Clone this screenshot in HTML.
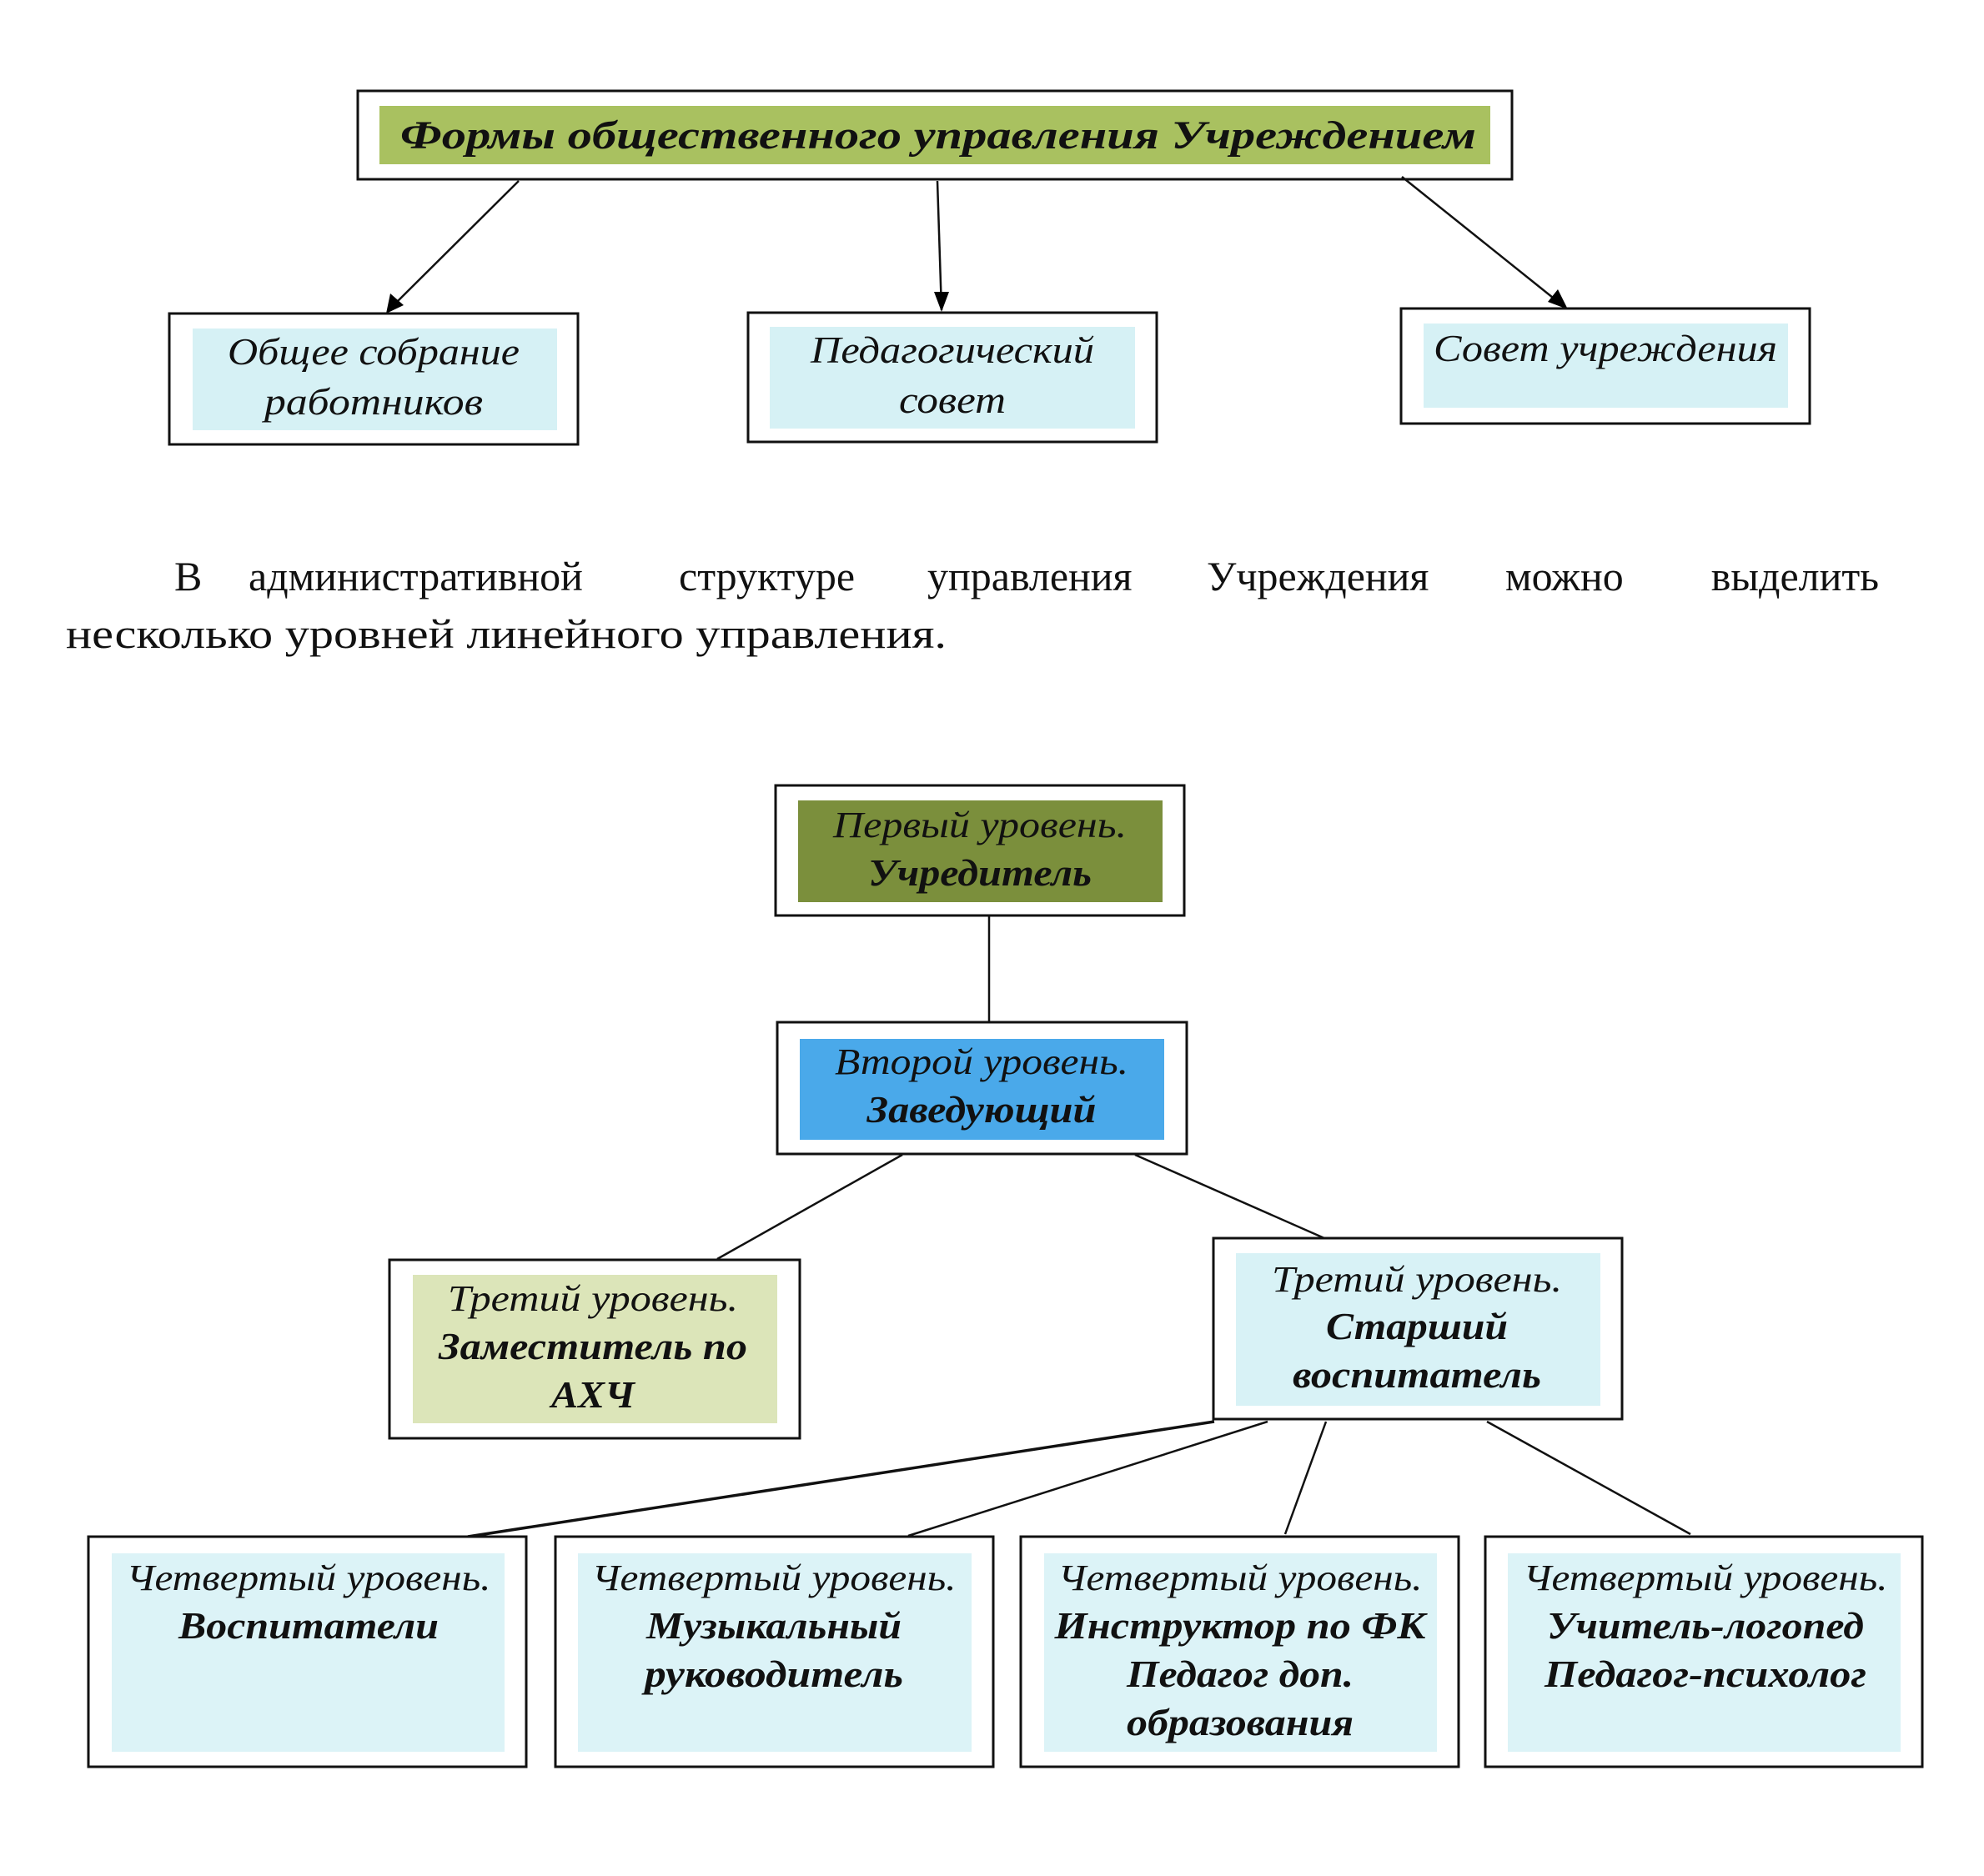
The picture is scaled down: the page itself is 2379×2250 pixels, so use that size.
<!DOCTYPE html>
<html><head><meta charset="utf-8"><style>
html,body{margin:0;padding:0;background:#fff;}
svg{display:block}
text{font-family:"Liberation Serif",serif;fill:#111;}
.i{font-style:italic;}
.b{font-weight:bold;font-style:italic;}
</style></head><body>
<svg width="2379" height="2250" viewBox="0 0 2379 2250" xmlns="http://www.w3.org/2000/svg">
<defs>
<marker id="ah" markerWidth="10" markerHeight="10" refX="9" refY="5" orient="auto" markerUnits="userSpaceOnUse" viewBox="0 0 10 10">
<path d="M0,1 L10,5 L0,9 z" fill="#000"/>
</marker>
</defs>
<!-- top box -->
<rect x="429" y="109" width="1384" height="106" fill="#fff" stroke="#111" stroke-width="3"/>
<rect x="455" y="127" width="1332" height="70" fill="#a9c160"/>
<text x="480" y="178" class="b" font-size="48" textLength="1290" lengthAdjust="spacingAndGlyphs">Формы общественного управления Учреждением</text>

<g stroke="#111" stroke-width="2.5">
<line x1="622" y1="217" x2="466" y2="372" marker-end="url(#ah)" style="marker-end:url(#ah)"/>
<line x1="1124" y1="217" x2="1129" y2="372"/>
<line x1="1681" y1="212" x2="1877" y2="369"/>
</g>
<path d="M463,376 L468,352 L484,366 z" fill="#000"/>
<path d="M1129,374 L1120,350 L1138,350 z" fill="#000"/>
<path d="M1880,371 L1856,362 L1868,347 z" fill="#000"/>

<!-- second row -->
<rect x="203" y="376" width="490" height="157" fill="#fff" stroke="#111" stroke-width="3"/>
<rect x="231" y="394" width="437" height="122" fill="#d6f1f5"/>
<text x="448" y="437" class="i" font-size="46" text-anchor="middle" textLength="350" lengthAdjust="spacingAndGlyphs">Общее собрание</text>
<text x="448" y="497" class="i" font-size="46" text-anchor="middle" textLength="262" lengthAdjust="spacingAndGlyphs">работников</text>

<rect x="897" y="375" width="490" height="155" fill="#fff" stroke="#111" stroke-width="3"/>
<rect x="923" y="392" width="438" height="122" fill="#d6f1f5"/>
<text x="1142" y="435" class="i" font-size="46" text-anchor="middle" textLength="340" lengthAdjust="spacingAndGlyphs">Педагогический</text>
<text x="1142" y="495" class="i" font-size="46" text-anchor="middle" textLength="128" lengthAdjust="spacingAndGlyphs">совет</text>

<rect x="1680" y="370" width="490" height="138" fill="#fff" stroke="#111" stroke-width="3"/>
<rect x="1707" y="388" width="437" height="101" fill="#d6f1f5"/>
<text x="1925" y="433" class="i" font-size="46" text-anchor="middle" textLength="412" lengthAdjust="spacingAndGlyphs">Совет учреждения</text>

<!-- paragraph -->
<g font-size="50">
<text x="209" y="708">В</text>
<text x="298" y="708">административной</text>
<text x="814" y="708">структуре</text>
<text x="1112" y="708">управления</text>
<text x="1447" y="708">Учреждения</text>
<text x="1805" y="708">можно</text>
<text x="2253" y="708" text-anchor="end">выделить</text>
<text x="79" y="777" textLength="1056" lengthAdjust="spacingAndGlyphs">несколько уровней линейного управления.</text>
</g>

<!-- connectors -->
<g stroke="#111" stroke-width="2.5">
<line x1="1186" y1="1098" x2="1186" y2="1226"/>
<line x1="1082" y1="1385" x2="860" y2="1510"/>
<line x1="1361" y1="1385" x2="1588" y2="1485"/>
<line x1="1456" y1="1705" x2="561" y2="1843" stroke-width="3.5"/>
<line x1="1520" y1="1705" x2="1089" y2="1842"/>
<line x1="1590" y1="1705" x2="1541" y2="1840"/>
<line x1="1783" y1="1705" x2="2027" y2="1840"/>
</g>

<!-- level 1 -->
<rect x="930" y="942" width="490" height="156" fill="#fff" stroke="#111" stroke-width="3"/>
<rect x="957" y="960" width="437" height="122" fill="#7b8f3c"/>
<text x="1175" y="1004" class="i" font-size="44" text-anchor="middle" textLength="352" lengthAdjust="spacingAndGlyphs">Первый уровень.</text>
<text x="1175" y="1062" class="b" font-size="46" text-anchor="middle" textLength="268" lengthAdjust="spacingAndGlyphs">Учредитель</text>

<!-- level 2 -->
<rect x="932" y="1226" width="491" height="158" fill="#fff" stroke="#111" stroke-width="3"/>
<rect x="959" y="1246" width="437" height="121" fill="#4aa9ea"/>
<text x="1177" y="1288" class="i" font-size="44" text-anchor="middle" textLength="352" lengthAdjust="spacingAndGlyphs">Второй уровень.</text>
<text x="1177" y="1346" class="b" font-size="46" text-anchor="middle" textLength="275" lengthAdjust="spacingAndGlyphs">Заведующий</text>

<!-- level 3a -->
<rect x="467" y="1511" width="492" height="214" fill="#fff" stroke="#111" stroke-width="3"/>
<rect x="495" y="1529" width="437" height="178" fill="#dce5b9"/>
<text x="711" y="1572" class="i" font-size="44" text-anchor="middle" textLength="348" lengthAdjust="spacingAndGlyphs">Третий уровень.</text>
<text x="711" y="1630" class="b" font-size="46" text-anchor="middle" textLength="370" lengthAdjust="spacingAndGlyphs">Заместитель по</text>
<text x="711" y="1688" class="b" font-size="46" text-anchor="middle" textLength="100" lengthAdjust="spacingAndGlyphs">АХЧ</text>

<!-- level 3b -->
<rect x="1455" y="1485" width="490" height="217" fill="#fff" stroke="#111" stroke-width="3"/>
<rect x="1482" y="1503" width="437" height="183" fill="#d8f2f6"/>
<text x="1699" y="1549" class="i" font-size="44" text-anchor="middle" textLength="348" lengthAdjust="spacingAndGlyphs">Третий уровень.</text>
<text x="1699" y="1606" class="b" font-size="46" text-anchor="middle" textLength="218" lengthAdjust="spacingAndGlyphs">Старший</text>
<text x="1699" y="1664" class="b" font-size="46" text-anchor="middle" textLength="298" lengthAdjust="spacingAndGlyphs">воспитатель</text>

<!-- level 4 -->
<g>
<rect x="106" y="1843" width="525" height="276" fill="#fff" stroke="#111" stroke-width="3"/>
<rect x="134" y="1863" width="471" height="238" fill="#dcf3f7"/>
<text x="370" y="1907" class="i" font-size="44" text-anchor="middle" textLength="437" lengthAdjust="spacingAndGlyphs">Четвертый уровень.</text>
<text x="370" y="1965" class="b" font-size="46" text-anchor="middle" textLength="312" lengthAdjust="spacingAndGlyphs">Воспитатели</text>

<rect x="666" y="1843" width="525" height="276" fill="#fff" stroke="#111" stroke-width="3"/>
<rect x="693" y="1863" width="472" height="238" fill="#dcf3f7"/>
<text x="928" y="1907" class="i" font-size="44" text-anchor="middle" textLength="437" lengthAdjust="spacingAndGlyphs">Четвертый уровень.</text>
<text x="928" y="1965" class="b" font-size="46" text-anchor="middle" textLength="306" lengthAdjust="spacingAndGlyphs">Музыкальный</text>
<text x="928" y="2023" class="b" font-size="46" text-anchor="middle" textLength="310" lengthAdjust="spacingAndGlyphs">руководитель</text>

<rect x="1224" y="1843" width="525" height="276" fill="#fff" stroke="#111" stroke-width="3"/>
<rect x="1252" y="1863" width="471" height="238" fill="#dcf3f7"/>
<text x="1487" y="1907" class="i" font-size="44" text-anchor="middle" textLength="437" lengthAdjust="spacingAndGlyphs">Четвертый уровень.</text>
<text x="1487" y="1965" class="b" font-size="46" text-anchor="middle" textLength="445" lengthAdjust="spacingAndGlyphs">Инструктор по ФК</text>
<text x="1487" y="2023" class="b" font-size="46" text-anchor="middle" textLength="272" lengthAdjust="spacingAndGlyphs">Педагог доп.</text>
<text x="1487" y="2081" class="b" font-size="46" text-anchor="middle" textLength="272" lengthAdjust="spacingAndGlyphs">образования</text>

<rect x="1781" y="1843" width="524" height="276" fill="#fff" stroke="#111" stroke-width="3"/>
<rect x="1808" y="1863" width="471" height="238" fill="#dcf3f7"/>
<text x="2045" y="1907" class="i" font-size="44" text-anchor="middle" textLength="437" lengthAdjust="spacingAndGlyphs">Четвертый уровень.</text>
<text x="2045" y="1965" class="b" font-size="46" text-anchor="middle" textLength="380" lengthAdjust="spacingAndGlyphs">Учитель-логопед</text>
<text x="2045" y="2023" class="b" font-size="46" text-anchor="middle" textLength="386" lengthAdjust="spacingAndGlyphs">Педагог-психолог</text>
</g>
</svg>
</body></html>
